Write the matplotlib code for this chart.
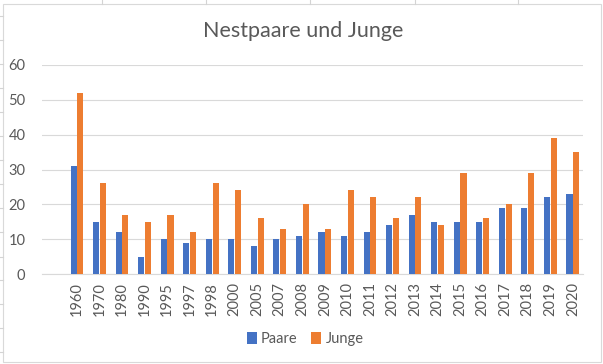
import matplotlib
matplotlib.use("Agg")
import matplotlib.pyplot as plt
import numpy as np
from matplotlib.lines import Line2D
from matplotlib.patches import Rectangle

years = ["1960", "1970", "1980", "1990", "1995", "1997", "1998", "2000", "2005", "2007",
         "2008", "2009", "2010", "2011", "2012", "2013", "2014", "2015", "2016", "2017",
         "2018", "2019", "2020"]
paare = [31, 15, 12, 5, 10, 9, 10, 10, 8, 10, 11, 12, 11, 12, 14, 17, 15, 15, 15, 19, 19, 22, 23]
junge = [52, 26, 17, 15, 17, 12, 26, 24, 16, 13, 20, 13, 24, 22, 16, 22, 14, 29, 16, 20, 29, 39, 35]
yticks = [0, 10, 20, 30, 40, 50, 60]

W, H = 603, 364
plt.rcParams['font.family'] = ['Lato', 'DejaVu Sans']
fig = plt.figure(figsize=(W / 100, H / 100), dpi=100)
fig.patch.set_facecolor('white')

def fx(px):
    return px / W

def fy(py):
    return 1 - py / H

# spreadsheet cell lines outside the chart
cell = '#D4D4D4'
for x in [102, 206, 310, 415, 518]:
    fig.add_artist(Line2D([fx(x), fx(x)], [fy(0), fy(4)], color=cell, lw=0.8))
for y in [16, 40, 64, 88, 112, 136, 160, 184, 208, 232, 257, 280, 304, 328, 352]:
    fig.add_artist(Line2D([fx(0), fx(3)], [fy(y), fy(y)], color=cell, lw=0.8))
# chart border
fig.add_artist(Rectangle((fx(3.5), fy(362)), fx(597), fy(4) - fy(362), fill=False,
                         edgecolor='#D9D9D9', lw=0.8))

ax = fig.add_axes([fx(42), fy(274), fx(583 - 42), fy(65) - fy(274)])
x = np.arange(len(years))
w = 0.27
ax.bar(x - 0.15, paare, width=w, color='#4472C4', label='Paare', zorder=3)
ax.bar(x + 0.15, junge, width=w, color='#ED7D31', label='Junge', zorder=3)

ax.set_xlim(-1.55, 22.45)
ax.set_ylim(0, 60)
ax.set_yticks(yticks)
ax.set_yticklabels([str(v) for v in yticks])
ax.set_xticks(x)
ax.set_xticklabels(years, rotation=90)
ax.grid(axis='y', color='#D9D9D9', lw=0.8, zorder=0)
for s in ['top', 'right', 'left']:
    ax.spines[s].set_visible(False)
ax.spines['bottom'].set_color('#D9D9D9')
ax.spines['bottom'].set_linewidth(0.8)
ax.tick_params(axis='both', length=0, colors='#595959', labelsize=10.5)
ax.tick_params(axis='y', pad=12)
ax.tick_params(axis='x', pad=6)

fig.text(fx(303), fy(31), 'Nestpaare und Junge', ha='center', va='center',
         fontsize=15.5, color='#595959')

leg = fig.legend(loc='center', bbox_to_anchor=(fx(305), fy(339)), ncol=2, frameon=False,
                 fontsize=10.5, handlelength=0.7, handleheight=0.9, handletextpad=0.3,
                 columnspacing=0.9, labelcolor='#595959')

fig.savefig('out.png', dpi=100, facecolor='white')
